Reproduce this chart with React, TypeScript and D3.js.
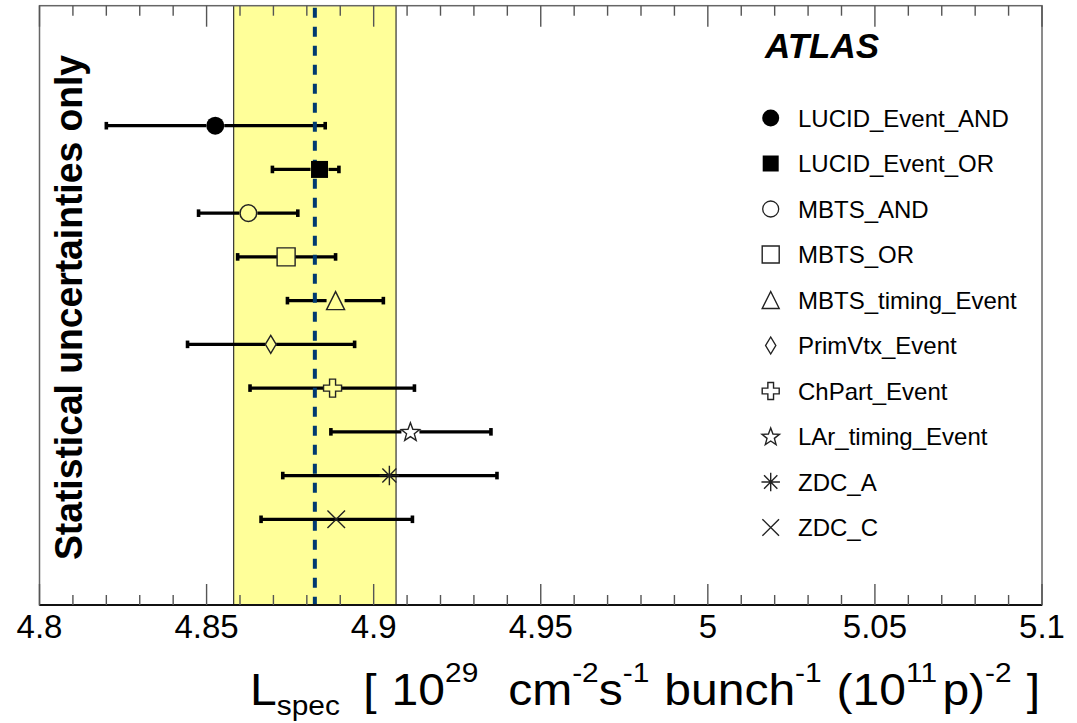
import React from "react";
import * as d3 from "d3";

// Per-trigger specific-luminosity results with statistical errors
const algorithms = [
  "LUCID_Event_AND",
  "LUCID_Event_OR",
  "MBTS_AND",
  "MBTS_OR",
  "MBTS_timing_Event",
  "PrimVtx_Event",
  "ChPart_Event",
  "LAr_timing_Event",
  "ZDC_A",
  "ZDC_C",
];
const markerKinds = [
  "circleFilled",
  "squareFilled",
  "circleOpen",
  "squareOpen",
  "triangleOpen",
  "diamondOpen",
  "crossOpen",
  "starOpen",
  "asterisk",
  "xmark",
];
const centralValues = [4.8526, 4.8838, 4.8625, 4.8738, 4.8886, 4.8692, 4.8877, 4.911, 4.9047, 4.8888];
const lowerEdges = [4.82, 4.8697, 4.8476, 4.8593, 4.8742, 4.8443, 4.863, 4.8872, 4.8728, 4.8663];
const upperEdges = [4.8855, 4.8896, 4.8773, 4.8886, 4.9029, 4.8943, 4.9122, 4.9351, 4.9369, 4.9116];

// Average value and its uncertainty band
const meanValue = 4.8824;
const bandHalfWidth = 0.0243;

const xDomain = [4.8, 5.1];
const majorTickLabels = ["4.8", "4.85", "4.9", "4.95", "5", "5.05", "5.1"];

// Axis title pieces: text, kind (n = normal, sub, sup), extra space before
const titlePieces: [string, string, number][] = [
  ["L", "n", 0],
  ["spec", "sub", 0],
  ["[", "n", 22],
  ["10", "n", 14],
  ["29", "sup", 0],
  ["cm", "n", 28],
  ["-2", "sup", 0],
  ["s", "n", 0],
  ["-1", "sup", 0],
  ["bunch", "n", 14],
  ["-1", "sup", 0],
  ["(", "n", 14],
  ["10", "n", 0],
  ["11", "sup", 0],
  ["p", "n", 5],
  [")", "n", 0],
  ["-2", "sup", 0],
  ["]", "n", 14],
];

const W = 1077;
const H = 723;
const plot = { left: 39.5, right: 1042, top: 5.7, bottom: 605 };

const FONT = "'Liberation Sans', Arial, Helvetica, sans-serif";

function markerPath(kind: string, s: number): string {
  const h = s / 2;
  switch (kind) {
    case "squareFilled":
    case "squareOpen":
      return `M${-h},${-h}H${h}V${h}H${-h}Z`;
    case "triangleOpen":
      return `M0,${-h}L${h},${h}L${-h},${h}Z`;
    case "diamondOpen": {
      const w = h * 0.6;
      return `M0,${-h}L${w},0L0,${h}L${-w},0Z`;
    }
    case "crossOpen": {
      const a = s / 6;
      return `M${-a},${-h}H${a}V${-a}H${h}V${a}H${a}V${h}H${-a}V${a}H${-h}V${-a}H${-a}Z`;
    }
    case "starOpen": {
      const pts: [number, number][] = [];
      const R = h * 1.08;
      const r = R * 0.42;
      for (let i = 0; i < 10; i++) {
        const ang = -Math.PI / 2 + (i * Math.PI) / 5;
        const rad = i % 2 === 0 ? R : r;
        pts.push([rad * Math.cos(ang), rad * Math.sin(ang) + h * 0.08]);
      }
      return "M" + pts.map((p) => p.join(",")).join("L") + "Z";
    }
    case "asterisk": {
      const d = h * 0.72;
      return `M0,${-h}V${h}M${-h},0H${h}M${-d},${-d}L${d},${d}M${-d},${d}L${d},${-d}`;
    }
    case "xmark": {
      const d = h * 0.9;
      return `M${-d},${-d}L${d},${d}M${-d},${d}L${d},${-d}`;
    }
    default:
      return "";
  }
}

function Marker({ kind, x, y, s }: { kind: string; x: number; y: number; s: number }) {
  const stroke = "#222";
  if (kind === "circleFilled") return <circle cx={x} cy={y} r={s / 2} fill="#000" />;
  if (kind === "circleOpen")
    return <circle cx={x} cy={y} r={s / 2 - 0.7} fill="none" stroke={stroke} strokeWidth={1.5} />;
  if (kind === "squareFilled")
    return <path d={markerPath(kind, s - 1)} transform={`translate(${x},${y})`} fill="#000" />;
  const lineOnly = kind === "asterisk" || kind === "xmark";
  return (
    <path
      d={markerPath(kind, lineOnly ? s + 1.5 : s)}
      transform={`translate(${x},${y})`}
      fill="none"
      stroke={stroke}
      strokeWidth={1.4}
      strokeLinejoin="miter"
    />
  );
}

// Half-width of the hole left in the error bar around each marker
function gapFor(kind: string, s: number): number {
  if (kind === "asterisk" || kind === "xmark") return 0;
  if (kind === "diamondOpen") return (s / 2) * 0.6;
  return s / 2;
}

export default function App() {
  const x = d3.scaleLinear().domain(xDomain).range([plot.left, plot.right]);
  const y = d3
    .scalePoint<string>()
    .domain(algorithms)
    .range([plot.top + 120, plot.top + 513.6]);

  const ticks = d3.range(0, 31).map((i) => xDomain[0] + i * 0.01);
  const isMajor = (i: number) => i % 5 === 0;

  const markerSize = 18;
  const legendX = 770.7;
  const legendTextX = 798;
  const legendY0 = 118;
  const legendStep = 45.5;

  // vertical offsets of sub/superscripts relative to the baseline
  const levelOffset: Record<string, number> = { n: 0, sub: 10, sup: -23 };

  return (
    <svg
      width={W}
      height={H}
      style={{ position: "absolute", left: 0, top: 0, background: "#fff" }}
      fontFamily={FONT}
    >
      <rect x={0} y={0} width={W} height={H} fill="#fff" />

      {/* mean band */}
      <rect
        x={x(meanValue - bandHalfWidth)}
        y={plot.top}
        width={x(meanValue + bandHalfWidth) - x(meanValue - bandHalfWidth)}
        height={plot.bottom - plot.top}
        fill="#ffff99"
      />
      <line x1={x(meanValue - bandHalfWidth)} x2={x(meanValue - bandHalfWidth)} y1={plot.top} y2={plot.bottom} stroke="#333" strokeWidth={1.2} />
      <line x1={x(meanValue + bandHalfWidth)} x2={x(meanValue + bandHalfWidth)} y1={plot.top} y2={plot.bottom} stroke="#333" strokeWidth={1.2} />

      {/* error bars */}
      {algorithms.map((name, i) => {
        const cy = y(name)!;
        const cx = x(centralValues[i]);
        const g = gapFor(markerKinds[i], markerSize);
        const lo = x(lowerEdges[i]);
        const hi = x(upperEdges[i]);
        return (
          <g key={name}>
            <line x1={lo} x2={cx - g} y1={cy} y2={cy} stroke="#000" strokeWidth={3.2} />
            <line x1={cx + g} x2={hi} y1={cy} y2={cy} stroke="#000" strokeWidth={3.2} />
            <rect x={lo - 1.8} y={cy - 3.8} width={3.6} height={7.6} fill="#000" />
            <rect x={hi - 1.8} y={cy - 3.8} width={3.6} height={7.6} fill="#000" />
          </g>
        );
      })}

      {/* mean value */}
      <line
        x1={x(meanValue)}
        x2={x(meanValue)}
        y1={plot.top + 2}
        y2={plot.bottom}
        stroke="#003a70"
        strokeWidth={4}
        strokeDasharray="10,9"
      />

      {/* markers */}
      {algorithms.map((name, i) => (
        <Marker key={name} kind={markerKinds[i]} x={x(centralValues[i])} y={y(name)!} s={markerSize} />
      ))}

      {/* frame */}
      <rect
        x={plot.left}
        y={plot.top}
        width={plot.right - plot.left}
        height={plot.bottom - plot.top}
        fill="none"
        stroke="#666"
        strokeWidth={1.5}
      />
      <line x1={plot.left} x2={plot.right} y1={plot.bottom} y2={plot.bottom} stroke="#111" strokeWidth={2} />

      {/* ticks, top and bottom */}
      {ticks.map((t, i) => {
        const len = isMajor(i) ? 21 : 10;
        const tx = x(t);
        return (
          <g key={i}>
            <line x1={tx} x2={tx} y1={plot.bottom} y2={plot.bottom - len} stroke="#555" strokeWidth={1.4} />
            <line x1={tx} x2={tx} y1={plot.top} y2={plot.top + len} stroke="#555" strokeWidth={1.4} />
          </g>
        );
      })}
      {majorTickLabels.map((lab) => (
        <text key={lab} x={x(+lab)} y={638} fontSize={33} textAnchor="middle" fill="#000">
          {lab}
        </text>
      ))}

      {/* axis title */}
      <text x={250} y={705} fontSize={45} fill="#000" textLength={790} lengthAdjust="spacingAndGlyphs">
        {titlePieces.map(([txt, kind, gap], i) => {
          const prev = i > 0 ? titlePieces[i - 1][1] : "n";
          const dy = levelOffset[kind] - levelOffset[prev];
          return (
            <tspan key={i} dx={gap} dy={dy} fontSize={kind === "n" ? 45 : 28}>
              {txt}
            </tspan>
          );
        })}
      </text>

      {/* vertical note */}
      <text
        transform="translate(82,307.5) rotate(-90)"
        textAnchor="middle"
        fontSize={38}
        fontWeight="bold"
        textLength={505}
        lengthAdjust="spacingAndGlyphs"
        fill="#000"
      >
        Statistical uncertainties only
      </text>

      {/* experiment label */}
      <text x={765} y={58} fontSize={35} fontWeight="bold" fontStyle="italic" fill="#000">
        ATLAS
      </text>

      {/* legend */}
      {algorithms.map((name, i) => {
        const ly = legendY0 + i * legendStep;
        const kind = markerKinds[i];
        return (
          <g key={name}>
            {kind === "circleOpen" ? (
              <circle cx={legendX} cy={ly} r={8} fill="none" stroke="#222" strokeWidth={1.3} />
            ) : (
              <Marker kind={kind} x={legendX} y={ly} s={17} />
            )}
            <text x={legendTextX} y={ly + 8.6} fontSize={24} fill="#000">
              {name}
            </text>
          </g>
        );
      })}
    </svg>
  );
}
